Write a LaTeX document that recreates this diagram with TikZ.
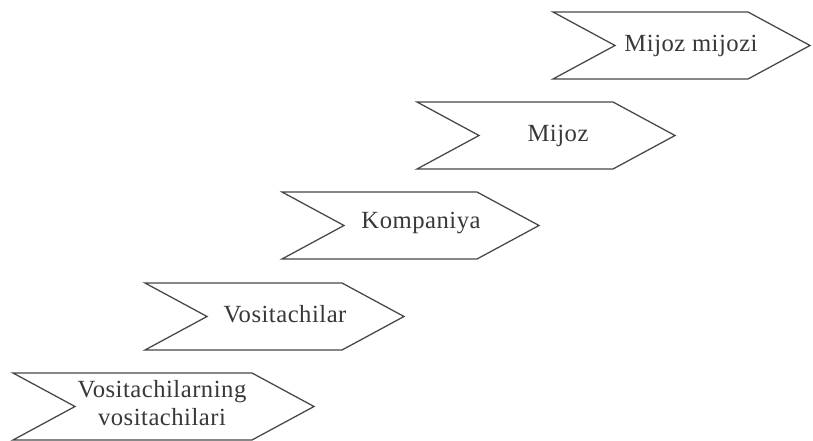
\documentclass[tikz,border=0pt]{standalone}
\usepackage{fontspec}
\setmainfont{Liberation Serif}[LetterSpace=2]
\newcommand\chevronshape[3]{% left, top, body width
  \draw[chev] (#1,#2) -- ++(#3,0) -- ++(62,33.5) -- ++(-62,33.5) -- ++(-#3,0) -- ++(62,-33.5) -- cycle;}
\begin{document}
\begin{tikzpicture}[x=0.75pt,y=-0.75pt,
  chev/.style={draw=black!72, line width=0.95pt, line join=miter},
  lab/.style={text=black!78, font=\fontsize{18.5}{21}\selectfont, anchor=base, inner sep=0pt}]
\useasboundingbox[fill=white] (0,0) rectangle (813,441);
\chevronshape{553}{12}{195}
\chevronshape{417}{102}{196}
\chevronshape{282}{192}{195}
\chevronshape{145}{283}{197}
\chevronshape{13}{373}{239}
\node[lab] (t1) at (691,52) {Mijoz mijozi};
\node[lab] (t2) at (558,142) {Mijoz};
\node[lab] (t3) at (421,229) {Kompaniya};
\node[lab] (t4) at (285,322) {Vositachilar};
\node[lab] (t5a) at (162,397) {Vositachilarning};
\node[lab] (t5b) at (162,425) {vositachilari};
\end{tikzpicture}
\end{document}
